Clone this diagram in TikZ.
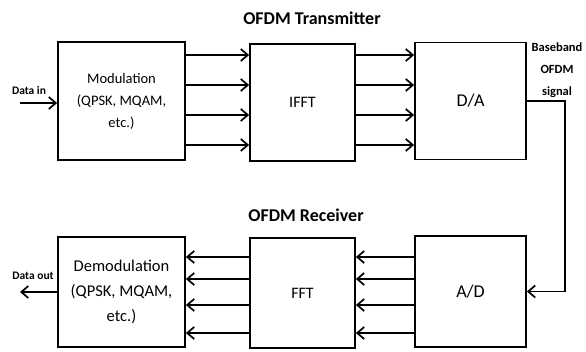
\documentclass[tikz,border=0pt]{standalone}
\usepackage{fontspec}
\setmainfont{Carlito}
\usetikzlibrary{arrows.meta}

\begin{document}
\begin{tikzpicture}[x=1pt,y=-1pt,
    blk/.style={draw,line width=1.8pt,align=center,inner sep=0pt},
    sig/.style={line width=1.8pt,-{Straight Barb[length=7pt,width=12pt,line width=1.7pt]}},
    ttl/.style={font=\bfseries\fontsize{18}{20}\selectfont},
    lbl/.style={font=\bfseries\fontsize{11.5}{13}\selectfont,inner sep=0pt}]
  \useasboundingbox (0,0) rectangle (586,351);
  % transmitter
  \node[ttl] (txtitle) at (312,18) {OFDM Transmitter};
  \node[blk,minimum width=127pt,minimum height=118pt,font=\fontsize{14.5}{22}\selectfont]
    (mod) at (121.5,101) {Modulation\\(QPSK, MQAM,\\etc.)};
  \node[blk,minimum width=105pt,minimum height=117pt,font=\fontsize{16}{18}\selectfont]
    (ifft) at (302.5,102.5) {IFFT};
  \node[blk,minimum width=111pt,minimum height=117pt,font=\fontsize{18}{18}\selectfont]
    (da) at (470.5,101) {D/A};
  \foreach \y in {55,85,115,145} {
    \draw[sig] (mod.east |- 0,\y) -- (ifft.west |- 0,\y);
    \draw[sig] (ifft.east |- 0,\y) -- (da.west |- 0,\y);
  }
  \coordinate (datain) at (20,103);
  \node[lbl] (inlbl) at (29,91) {Data in};
  \draw[sig] (datain) -- (mod.west |- datain);
  \node[font=\bfseries\fontsize{12.5}{22}\selectfont,align=center,inner sep=0pt]
    (bbsig) at (557,70) {Baseband\\OFDM\\signal};
  % receiver
  \node[ttl] (rxtitle) at (306,215) {OFDM Receiver};
  \node[blk,minimum width=127pt,minimum height=110pt,font=\fontsize{16.5}{25}\selectfont]
    (demod) at (121.5,292) {Demodulation\\(QPSK, MQAM,\\etc.)};
  \node[blk,minimum width=105pt,minimum height=110pt,font=\fontsize{16}{18}\selectfont]
    (fft) at (302.5,293) {FFT};
  \node[blk,minimum width=111pt,minimum height=111pt,font=\fontsize{18}{18}\selectfont]
    (ad) at (470.5,291.5) {A/D};
  \foreach \y in {257,279,305,333} {
    \draw[sig] (ad.west |- 0,\y) -- (fft.east |- 0,\y);
    \draw[sig] (fft.west |- 0,\y) -- (demod.east |- 0,\y);
  }
  \draw[sig] (da.east) -- ++(38,0) |- (ad.east);
  \coordinate (dataout) at (20,292);
  \node[lbl] (outlbl) at (33,276) {Data out};
  \draw[sig] (demod.west) -- (dataout);
\end{tikzpicture}
\end{document}
